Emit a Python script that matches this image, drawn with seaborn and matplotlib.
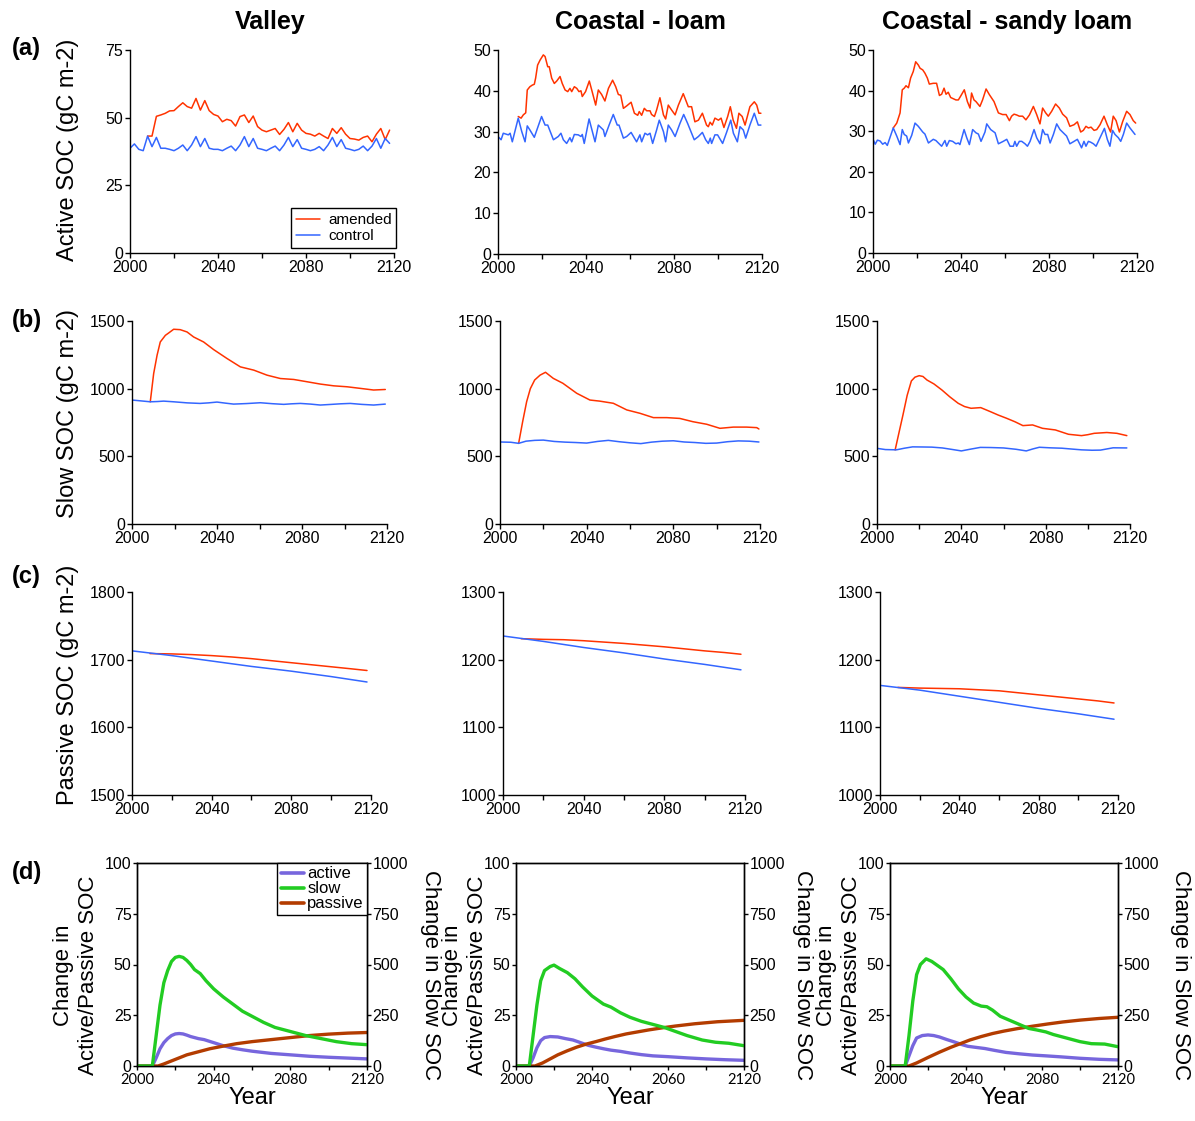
import numpy as np
import pandas as pd
import matplotlib
matplotlib.use("Agg")
import matplotlib.pyplot as plt
from matplotlib.lines import Line2D
import seaborn as sns

sns.set_theme(style="ticks", rc={
    "axes.edgecolor": "black",
    "xtick.color": "black",
    "ytick.color": "black",
    "text.color": "black",
    "axes.labelcolor": "black",
})
plt.rcParams["font.family"] = ["Liberation Sans", "DejaVu Sans"]

# ---------------------------------------------------------------- labels
SITES = ["Valley", "Coastal - loam", "Coastal - sandy loam"]
PANEL_TAGS = ["(a)", "(b)", "(c)", "(d)"]
ROW_YLABELS = ["Active SOC (gC m-2)", "Slow SOC (gC m-2)", "Passive SOC (gC m-2)"]
X_TICKS = [2000, 2020, 2040, 2060, 2080, 2100, 2120]
X_TICK_LABELS = ["2000", "", "2040", "", "2080", "", "2120"]
X_TICK_LABELS_LOAM_CHANGE = ["2000", "", "2040", "", "2060", "", "2120"]

# ---------------------------------------------------------------- active pool (gC m-2)
valley_active_ctrl_years = list(range(2000, 2120, 2))
valley_active_ctrl = [38.7, 40.3, 38.3, 37.8, 43.2, 39.3, 42.7, 38.7, 38.7, 38.3,
                      37.8, 38.7, 39.9, 37.8, 39.9, 43.0, 39.3, 42.3, 38.7, 38.3,
                      38.3, 37.8, 38.7, 39.5, 37.8, 39.9, 43.0, 39.3, 42.3, 38.7,
                      38.3, 37.8, 38.7, 39.5, 37.8, 39.9, 42.7, 39.3, 41.9, 38.7,
                      38.3, 37.8, 38.3, 39.3, 37.8, 39.9, 42.7, 39.3, 41.9, 38.7,
                      38.3, 37.8, 38.3, 39.5, 37.8, 39.5, 42.3, 38.7, 42.3, 40.5]
valley_active_amend_years = list(range(2008, 2120, 2))
valley_active_amend = [43.2, 43.2, 50.5, 51.0, 51.6, 52.5, 52.6, 54.1, 55.5, 54.1,
                       53.5, 57.1, 52.8, 56.3, 52.6, 51.2, 50.6, 48.5, 49.4, 48.9,
                       46.9, 50.4, 51.0, 48.2, 50.6, 46.7, 45.4, 44.8, 45.4, 46.0,
                       43.8, 45.7, 48.2, 44.8, 47.9, 45.4, 44.2, 43.9, 43.2, 44.2,
                       43.2, 42.3, 46.0, 44.2, 46.3, 43.9, 42.3, 42.1, 41.7, 42.7,
                       43.2, 41.1, 43.9, 46.0, 41.9, 45.4]

loam_active_ctrl_years = [2000.0, 2001.4, 2002.4, 2004.7, 2005.5, 2006.5, 2009.2, 2010.8, 2012.3, 2013.3,
                          2014.5, 2016.5, 2019.8, 2021.4, 2022.6, 2025.2, 2027.4, 2028.6, 2029.7, 2031.2,
                          2032.7, 2033.5, 2034.7, 2036.5, 2037.7, 2038.3, 2039.2, 2041.4, 2044.1, 2045.6,
                          2047.9, 2048.6, 2050.5, 2052.4, 2054.2, 2055.0, 2057.0, 2058.5, 2060.5, 2062.0,
                          2063.0, 2064.5, 2065.3, 2066.8, 2068.0, 2069.1, 2070.3, 2072.1, 2073.3, 2075.2,
                          2076.2, 2077.4, 2078.9, 2080.5, 2082.7, 2084.4, 2086.2, 2086.8, 2089.2, 2091.1,
                          2092.9, 2094.4, 2095.6, 2096.5, 2097.1, 2098.6, 2099.8, 2102.1, 2103.9, 2105.8,
                          2107.0, 2108.8, 2110.0, 2111.5, 2112.6, 2114.5, 2116.5, 2118.3, 2119.5]
loam_active_ctrl = [28.8, 28.0, 29.6, 29.2, 29.6, 27.5, 33.3, 30.0, 27.5, 31.4,
                    30.4, 28.6, 33.7, 31.6, 31.6, 28.0, 28.8, 29.6, 28.0, 27.1,
                    28.5, 27.5, 29.3, 29.2, 28.8, 29.3, 27.1, 33.1, 27.5, 31.6,
                    30.4, 28.8, 31.6, 34.2, 31.6, 31.6, 28.4, 28.8, 29.8, 28.4,
                    27.5, 29.2, 27.5, 29.6, 29.2, 29.6, 27.1, 30.4, 32.8, 30.0,
                    27.5, 31.6, 30.4, 28.8, 32.0, 34.2, 32.0, 31.2, 28.0, 28.8,
                    29.8, 28.0, 27.1, 28.4, 27.1, 29.2, 29.2, 27.1, 29.8, 32.8,
                    29.6, 27.5, 31.2, 30.4, 28.4, 31.6, 34.5, 31.6, 31.6]
loam_active_amend_years = [2009.2, 2010.5, 2011.5, 2012.6, 2013.3, 2014.5, 2015.6, 2016.5, 2017.1, 2018.0,
                           2019.1, 2020.6, 2021.4, 2022.6, 2023.3, 2024.4, 2025.6, 2026.7, 2028.2, 2029.2,
                           2030.5, 2031.7, 2032.7, 2033.5, 2034.7, 2035.8, 2036.8, 2037.7, 2038.3, 2039.8,
                           2041.5, 2042.6, 2044.4, 2045.6, 2047.1, 2048.6, 2050.2, 2052.1, 2053.5, 2054.7,
                           2055.8, 2057.0, 2058.5, 2060.5, 2062.0, 2063.5, 2064.2, 2065.3, 2066.5, 2067.6,
                           2069.1, 2069.8, 2071.1, 2072.1, 2073.6, 2075.2, 2076.2, 2077.4, 2078.9, 2080.5,
                           2082.0, 2084.2, 2086.5, 2088.0, 2089.5, 2091.1, 2092.9, 2094.8, 2095.6, 2096.4,
                           2097.4, 2098.6, 2100.2, 2101.4, 2102.7, 2104.4, 2105.6, 2106.9, 2108.4, 2109.5,
                           2111.0, 2112.3, 2114.5, 2116.5, 2117.6, 2118.6, 2119.5]
loam_active_amend = [33.7, 33.3, 34.1, 34.6, 40.2, 41.0, 41.4, 41.6, 43.1, 46.3,
                     47.5, 48.8, 48.4, 45.9, 45.9, 43.1, 41.8, 42.4, 43.5, 41.8,
                     40.2, 39.8, 40.6, 39.8, 41.0, 40.6, 39.8, 40.0, 38.6, 39.8,
                     42.4, 40.2, 36.5, 40.2, 39.1, 37.5, 40.6, 42.6, 41.0, 39.1,
                     38.9, 35.7, 36.3, 37.2, 34.5, 34.0, 34.9, 34.0, 35.7, 35.1,
                     35.1, 34.2, 33.7, 35.3, 38.3, 34.1, 33.1, 36.5, 35.3, 34.1,
                     36.5, 39.3, 36.1, 36.1, 32.4, 32.8, 34.5, 31.6, 31.2, 32.3,
                     31.6, 33.3, 32.8, 33.3, 31.0, 33.7, 36.1, 32.8, 30.8, 34.5,
                     33.7, 31.6, 36.1, 37.3, 36.5, 34.5, 34.5]

sandy_active_ctrl_years = [2000.0, 2001.0, 2002.0, 2003.2, 2004.4, 2005.5, 2006.5, 2009.2, 2010.8, 2012.3,
                           2013.3, 2014.2, 2015.3, 2016.1, 2017.6, 2019.1, 2020.6, 2022.6, 2023.6, 2025.2,
                           2027.4, 2028.6, 2029.7, 2031.2, 2032.7, 2033.5, 2034.7, 2036.2, 2037.7, 2038.8,
                           2039.5, 2041.4, 2042.6, 2043.8, 2045.3, 2046.8, 2047.9, 2049.1, 2050.9, 2051.7,
                           2053.5, 2055.5, 2057.0, 2059.2, 2060.8, 2062.3, 2063.8, 2064.5, 2065.3, 2066.5,
                           2067.6, 2069.1, 2070.2, 2071.4, 2073.2, 2074.4, 2075.9, 2077.1, 2078.2, 2079.4,
                           2080.5, 2082.0, 2083.5, 2085.0, 2086.5, 2088.0, 2089.5, 2091.4, 2092.9, 2094.1,
                           2094.8, 2095.9, 2096.8, 2097.9, 2098.9, 2100.2, 2101.4, 2103.2, 2105.2, 2106.5,
                           2107.7, 2108.9, 2110.0, 2111.5, 2112.6, 2113.8, 2115.3, 2116.8, 2119.1]
sandy_active_ctrl = [28.0, 26.8, 27.8, 27.6, 26.8, 27.2, 26.5, 30.8, 28.8, 26.7,
                     30.4, 29.2, 28.8, 27.1, 29.0, 32.0, 31.2, 29.8, 29.3, 27.1,
                     28.0, 27.7, 27.1, 26.3, 27.7, 26.3, 27.7, 27.5, 26.9, 27.1,
                     26.7, 30.4, 28.4, 26.7, 30.4, 29.6, 29.3, 27.5, 29.8, 31.8,
                     30.4, 29.6, 26.9, 27.5, 28.0, 26.3, 26.3, 27.5, 26.3, 27.5,
                     27.5, 26.9, 26.3, 27.5, 30.4, 28.4, 26.9, 30.4, 29.2, 29.2,
                     27.1, 29.2, 31.8, 30.4, 29.6, 28.8, 26.9, 27.5, 28.0, 26.7,
                     25.9, 27.5, 26.3, 27.5, 27.3, 26.9, 26.3, 28.4, 30.7, 28.0,
                     26.3, 30.2, 29.2, 28.4, 27.5, 29.2, 32.0, 30.8, 29.2]
sandy_active_amend_years = [2009.2, 2010.8, 2012.3, 2013.3, 2014.2, 2015.0, 2016.1, 2017.1, 2018.3, 2019.4,
                            2020.6, 2021.4, 2022.6, 2023.6, 2024.7, 2025.6, 2027.4, 2028.9, 2030.2, 2031.2,
                            2032.3, 2033.2, 2034.2, 2035.3, 2036.5, 2037.7, 2038.8, 2039.8, 2041.5, 2042.9,
                            2044.1, 2044.8, 2045.9, 2046.8, 2048.6, 2049.8, 2051.4, 2052.9, 2055.0, 2057.0,
                            2058.9, 2060.5, 2062.0, 2063.0, 2064.1, 2065.3, 2066.5, 2068.0, 2069.5, 2071.1,
                            2072.9, 2074.4, 2075.9, 2077.1, 2078.5, 2079.7, 2081.2, 2083.0, 2084.7, 2086.2,
                            2088.0, 2089.5, 2091.4, 2092.9, 2094.4, 2095.6, 2096.8, 2097.9, 2099.1, 2100.5,
                            2101.7, 2103.2, 2105.0, 2106.5, 2108.0, 2109.2, 2110.5, 2112.0, 2113.5, 2115.3,
                            2116.8, 2118.3, 2119.4]
sandy_active_amend = [30.8, 32.0, 34.5, 40.2, 40.6, 41.2, 40.7, 43.1, 44.7, 47.1,
                      46.3, 45.5, 45.1, 44.3, 43.1, 41.6, 41.8, 41.8, 38.8, 39.1,
                      40.6, 39.1, 39.6, 38.3, 38.0, 37.7, 37.7, 38.6, 40.2, 37.3,
                      35.7, 39.4, 37.7, 37.3, 36.1, 37.7, 40.4, 39.0, 37.3, 34.5,
                      34.1, 34.1, 32.6, 33.7, 34.2, 34.0, 33.7, 33.7, 32.8, 34.0,
                      36.1, 34.1, 31.8, 35.7, 34.5, 33.7, 34.9, 36.7, 35.7, 34.2,
                      33.3, 31.2, 31.6, 32.3, 29.8, 30.2, 31.2, 30.8, 31.0, 30.2,
                      30.4, 31.6, 33.7, 31.6, 29.8, 33.7, 32.6, 29.8, 32.4, 34.9,
                      34.1, 32.6, 32.0]

# ---------------------------------------------------------------- slow pool (gC m-2)
valley_slow_ctrl_years = [2000, 2004, 2008.6, 2012, 2014.9, 2019.6, 2026, 2032, 2036, 2040,
                          2044, 2047.8, 2054, 2060.4, 2066, 2071.4, 2075, 2079.2, 2084, 2088.6,
                          2094, 2098, 2102.7, 2108, 2113.7, 2119.2]
valley_slow_ctrl = [916, 910, 903, 905, 908, 903, 895, 891, 895, 901,
                    893, 886, 890, 896, 889, 884, 888, 891, 886, 879,
                    884, 888, 891, 884, 879, 886]
valley_slow_amend_years = [2008.6, 2010.2, 2011.8, 2013.3, 2015.7, 2017.3, 2019.6, 2022.7, 2025.9, 2029.0,
                           2033.7, 2038.4, 2044.7, 2051.0, 2057.3, 2063.5, 2069.8, 2076.1, 2082.4, 2088.6,
                           2094.9, 2101.2, 2107.5, 2113.7, 2119.2]
valley_slow_amend = [903, 1112, 1247, 1345, 1394, 1412, 1439, 1436, 1419, 1382,
                     1345, 1289, 1223, 1161, 1137, 1100, 1075, 1068, 1051, 1034,
                     1021, 1014, 1002, 990, 994]

loam_slow_ctrl_years = [2000, 2005, 2008.6, 2012, 2016, 2020, 2025, 2030, 2035, 2040,
                        2045, 2050, 2055, 2060, 2065, 2070, 2075, 2080, 2085, 2090,
                        2095, 2100, 2105, 2110, 2115, 2119.5]
loam_slow_ctrl = [606, 604, 596, 612, 618, 620, 610, 605, 602, 598,
                  610, 618, 608, 600, 594, 605, 612, 615, 606, 602,
                  596, 598, 608, 614, 612, 606]
loam_slow_amend_years = [2008.6, 2010.5, 2012.3, 2014, 2016, 2018.5, 2021, 2024.6, 2029, 2035.4,
                         2041.5, 2046, 2052.3, 2058.5, 2064.6, 2070.8, 2077, 2083, 2089, 2095.4,
                         2101.5, 2107.7, 2113.8, 2118.5, 2119.5]
loam_slow_amend = [596, 760, 904, 1000, 1064, 1100, 1121, 1076, 1040, 966,
                   916, 908, 892, 843, 818, 786, 786, 780, 756, 737,
                   707, 716, 716, 712, 702]

sandy_slow_ctrl_years = [2000, 2004, 2009.2, 2013, 2016.9, 2022, 2026, 2031, 2036, 2040,
                         2044, 2049, 2054, 2060, 2066, 2070.8, 2074, 2077, 2082, 2087.7,
                         2093, 2097, 2102, 2106, 2112, 2118.5]
sandy_slow_ctrl = [559, 550, 548, 560, 570, 569, 568, 562, 550, 540,
                   552, 566, 565, 562, 552, 540, 555, 567, 563, 560,
                   553, 548, 545, 546, 563, 562]
sandy_slow_amend_years = [2008.6, 2010.5, 2012.3, 2014.3, 2016.3, 2018, 2020, 2021.8, 2023.7, 2027,
                          2030.8, 2034.5, 2038.5, 2041.5, 2044.6, 2049.2, 2053.8, 2057.5, 2061.5, 2065.5,
                          2069.2, 2073.8, 2078.5, 2084.6, 2090.8, 2097, 2100, 2103, 2109, 2113.8,
                          2118.5]
sandy_slow_amend = [547, 680, 805, 950, 1057, 1085, 1096, 1090, 1064, 1035,
                    990, 940, 892, 868, 855, 860, 830, 805, 781, 755,
                    727, 732, 707, 695, 663, 653, 660, 670, 676, 670,
                    653]

# ---------------------------------------------------------------- passive pool (gC m-2)
passive_ctrl_years = [2000, 2020, 2040, 2060, 2080, 2100, 2118]
passive_amend_years = [2009, 2020, 2030, 2040, 2050, 2060, 2070, 2080, 2090, 2100, 2110, 2118]
valley_passive_ctrl = [1713, 1706, 1698, 1690, 1683, 1675, 1667]
valley_passive_amend = [1709, 1708.5, 1707.5, 1706, 1704, 1701.5, 1698.5, 1695.5, 1692.5, 1689.5, 1686.5, 1684]
loam_passive_ctrl = [1235, 1227, 1218, 1210, 1201, 1193, 1185]
loam_passive_amend = [1231, 1230, 1229.5, 1228, 1226, 1224, 1221.5, 1219, 1216, 1213, 1210.5, 1208]
sandy_passive_ctrl = [1162, 1155, 1146, 1137, 1128, 1120, 1112]
sandy_passive_amend = [1159, 1158, 1157.5, 1157, 1155.5, 1154, 1151, 1148, 1145, 1142, 1139, 1136]

# ---------------------------------------------------------------- change due to amendment
valley_chg_active_years = [2000, 2008, 2010, 2012, 2014, 2016, 2018, 2020, 2022, 2024,
                           2026, 2028, 2030, 2032, 2035, 2040, 2045, 2050, 2055, 2060,
                           2070, 2080, 2090, 2100, 2110, 2120]
valley_chg_active = [0, 0, 4, 8.5, 11.5, 13.5, 15, 15.8, 16, 15.8,
                     15.2, 14.5, 14, 13.5, 13, 11.5, 10, 8.8, 8, 7.3,
                     6.2, 5.5, 4.8, 4.3, 3.9, 3.5]
valley_chg_slow_years = [2000, 2008, 2010, 2012, 2014, 2016, 2018, 2020, 2022, 2024,
                         2026, 2028, 2030, 2033, 2036, 2040, 2045, 2050, 2055, 2060,
                         2066, 2072, 2080, 2088, 2096, 2104, 2112, 2120]
valley_chg_slow = [0, 0, 150, 300, 410, 470, 515, 535, 540, 535,
                   520, 500, 475, 455, 420, 380, 340, 305, 270, 245,
                   215, 190, 170, 150, 135, 120, 110, 105]
valley_chg_passive_years = [2000, 2011, 2014, 2018, 2022, 2026, 2032, 2038, 2045, 2052,
                            2060, 2070, 2080, 2090, 2100, 2110, 2120]
valley_chg_passive = [0, 0, 1, 2.5, 4, 5.5, 7, 8.5, 9.8, 11,
                      12, 13, 14, 15, 15.7, 16.2, 16.5]

loam_chg_active_years = [2000, 2007, 2009, 2011, 2013, 2015, 2018, 2022, 2026, 2030,
                         2034, 2038, 2042, 2046, 2050, 2055, 2060, 2066, 2072, 2080,
                         2090, 2100, 2110, 2120]
loam_chg_active = [0, 0, 4, 9, 12.5, 14, 14.5, 14.3, 13.5, 12.8,
                   11.5, 10.2, 9.3, 8.5, 7.8, 7.2, 6.4, 5.6, 5.0, 4.6,
                   4.0, 3.5, 3.1, 2.8]
loam_chg_slow_years = [2000, 2007, 2009, 2011, 2013, 2015, 2018, 2020, 2023, 2027,
                       2031, 2035, 2040, 2046, 2050, 2055, 2060, 2066, 2072, 2078,
                       2084, 2090, 2098, 2105, 2112, 2120]
loam_chg_slow = [0, 0, 150, 300, 420, 470, 490, 497, 480, 460,
                 430, 390, 345, 305, 290, 262, 240, 220, 205, 190,
                 170, 150, 128, 117, 112, 100]
loam_chg_passive_years = [2000, 2010, 2014, 2018, 2022, 2027, 2032, 2037, 2042, 2047,
                          2052, 2058, 2064, 2070, 2077, 2084, 2094, 2106, 2120]
loam_chg_passive = [0, 0, 1.5, 3.5, 5.5, 7.5, 9.3, 10.8, 12.0, 13.3,
                    14.5, 15.8, 16.8, 17.8, 18.8, 19.7, 20.8, 21.8, 22.5]

sandy_chg_active_years = [2000, 2008, 2010, 2012, 2014, 2017, 2020, 2023, 2026, 2030,
                          2034, 2038, 2041, 2045, 2050, 2055, 2061, 2068, 2075, 2082,
                          2090, 2100, 2110, 2120]
sandy_chg_active = [0, 0, 5, 10, 13.8, 15.0, 15.3, 15.0, 14.3, 13.0,
                    11.8, 10.5, 9.7, 9.2, 8.6, 7.7, 6.7, 6.0, 5.4, 5.0,
                    4.5, 3.8, 3.3, 3.0]
sandy_chg_slow_years = [2000, 2008, 2010, 2012, 2014, 2016, 2019, 2022, 2025, 2028,
                        2032, 2036, 2040, 2044, 2048, 2051, 2054, 2058, 2063, 2068,
                        2073, 2077, 2082, 2086, 2092, 2100, 2106, 2113, 2120]
sandy_chg_slow = [0, 0, 150, 320, 450, 500, 528, 515, 495, 475,
                  430, 380, 340, 310, 295, 292, 275, 245, 225, 205,
                  185, 178, 168, 155, 140, 120, 110, 108, 95]
sandy_chg_passive_years = [2000, 2010, 2014, 2020, 2026, 2032, 2037, 2042, 2048, 2054,
                           2060, 2067, 2075, 2083, 2091, 2100, 2110, 2120]
sandy_chg_passive = [0, 0, 1.5, 4.2, 6.8, 9.2, 11.0, 12.8, 14.5, 16.0,
                     17.2, 18.4, 19.6, 20.7, 21.7, 22.6, 23.4, 24.0]

# ---------------------------------------------------------------- styling
RUN_COLORS = {"amended": "#ff3300", "control": "#3366ff"}
POOL_COLORS = {"active": "#7766dd", "slow": "#22cc22", "passive": "#b33c00"}
SANS = ["Liberation Sans", "DejaVu Sans"]

W, H = 1195, 1121
fig = plt.figure(figsize=(W / 100, H / 100), dpi=100)


def px_axes(left, top, right, bottom):
    return fig.add_axes([left / W, 1 - bottom / H, (right - left) / W, (bottom - top) / H])


def pair_frame(ctrl_x, ctrl_y, amend_x, amend_y):
    return pd.concat([
        pd.DataFrame({"year": amend_x, "soc": amend_y, "run": "amended"}),
        pd.DataFrame({"year": ctrl_x, "soc": ctrl_y, "run": "control"}),
    ], ignore_index=True)


def draw_pair(ax, frame, yticks):
    sns.lineplot(data=frame, x="year", y="soc", hue="run", hue_order=["amended", "control"],
                 palette=RUN_COLORS, estimator=None, linewidth=1.1, legend=False, ax=ax)
    ax.set_xlim(2000, 2120)
    ax.set_ylim(yticks[0], yticks[-1])
    ax.set_xticks(X_TICKS)
    ax.set_xticklabels(X_TICK_LABELS)
    ax.set_yticks(yticks)
    ax.set_xlabel("")
    ax.set_ylabel("")
    for side in ("top", "right"):
        ax.spines[side].set_visible(False)
    for side in ("left", "bottom"):
        ax.spines[side].set_linewidth(1.0)
    ax.tick_params(direction="out", length=3.5, width=1.0, labelsize=11.5, pad=1.5)
    for lab in ax.get_xticklabels() + ax.get_yticklabels():
        lab.set_fontfamily(SANS)


# axes boxes in pixels: (left, top, right, bottom)
row_boxes = [
    [(130, 50, 394, 253), (498, 50, 762, 254), (873, 50, 1137, 253)],
    [(132, 321, 387, 524), (500, 321, 760, 524), (877, 321, 1130, 524)],
    [(132, 592, 371, 795), (503, 592, 745, 795), (880, 592, 1118, 795)],
    [(137, 863, 367, 1066), (516, 863, 744, 1066), (890, 863, 1118, 1066)],
]
# horizontal centres of the two-line left label and the right label, row (d)
change_left_label_x = [76, 465, 839]
change_right_label_x = [430, 802, 1180]

active_sets = [
    (valley_active_ctrl_years, valley_active_ctrl, valley_active_amend_years, valley_active_amend, [0, 25, 50, 75]),
    (loam_active_ctrl_years, loam_active_ctrl, loam_active_amend_years, loam_active_amend, [0, 10, 20, 30, 40, 50]),
    (sandy_active_ctrl_years, sandy_active_ctrl, sandy_active_amend_years, sandy_active_amend, [0, 10, 20, 30, 40, 50]),
]
slow_sets = [
    (valley_slow_ctrl_years, valley_slow_ctrl, valley_slow_amend_years, valley_slow_amend, [0, 500, 1000, 1500]),
    (loam_slow_ctrl_years, loam_slow_ctrl, loam_slow_amend_years, loam_slow_amend, [0, 500, 1000, 1500]),
    (sandy_slow_ctrl_years, sandy_slow_ctrl, sandy_slow_amend_years, sandy_slow_amend, [0, 500, 1000, 1500]),
]
passive_sets = [
    (passive_ctrl_years, valley_passive_ctrl, passive_amend_years, valley_passive_amend, [1500, 1600, 1700, 1800]),
    (passive_ctrl_years, loam_passive_ctrl, passive_amend_years, loam_passive_amend, [1000, 1100, 1200, 1300]),
    (passive_ctrl_years, sandy_passive_ctrl, passive_amend_years, sandy_passive_amend, [1000, 1100, 1200, 1300]),
]

for r, sets in enumerate([active_sets, slow_sets, passive_sets]):
    for c, (cx, cy, ax_, ay, yt) in enumerate(sets):
        ax = px_axes(*row_boxes[r][c])
        draw_pair(ax, pair_frame(cx, cy, ax_, ay), yt)
        if r == 0 and c == 0:
            handles = [Line2D([], [], color=RUN_COLORS[k], lw=1.1) for k in ("amended", "control")]
            leg = ax.legend(handles, ["amended", "control"], loc="lower right",
                            bbox_to_anchor=(1.008, 0.025), fontsize=11, frameon=True,
                            fancybox=False, framealpha=1, edgecolor="black",
                            handlelength=1.6, handletextpad=0.5, borderpad=0.3,
                            labelspacing=0.15, borderaxespad=0)
            leg.get_frame().set_linewidth(1.0)

# ---------------------------------------------------------------- change panels
change_sets = [
    (valley_chg_active_years, valley_chg_active, valley_chg_passive_years, valley_chg_passive,
     valley_chg_slow_years, valley_chg_slow, X_TICK_LABELS),
    (loam_chg_active_years, loam_chg_active, loam_chg_passive_years, loam_chg_passive,
     loam_chg_slow_years, loam_chg_slow, X_TICK_LABELS_LOAM_CHANGE),
    (sandy_chg_active_years, sandy_chg_active, sandy_chg_passive_years, sandy_chg_passive,
     sandy_chg_slow_years, sandy_chg_slow, X_TICK_LABELS),
]

for c, (axx, axy, psx, psy, slx, sly, xlabels) in enumerate(change_sets):
    box = row_boxes[3][c]
    ax = px_axes(*box)
    left_frame = pd.concat([
        pd.DataFrame({"year": axx, "change": axy, "pool": "active"}),
        pd.DataFrame({"year": psx, "change": psy, "pool": "passive"}),
    ], ignore_index=True)
    sns.lineplot(data=left_frame, x="year", y="change", hue="pool", hue_order=["active", "passive"],
                 palette=POOL_COLORS, estimator=None, linewidth=2.4, legend=False, ax=ax)
    ax2 = ax.twinx()
    slow_frame = pd.DataFrame({"year": slx, "change": sly, "pool": "slow"})
    sns.lineplot(data=slow_frame, x="year", y="change", color=POOL_COLORS["slow"],
                 estimator=None, linewidth=2.4, legend=False, ax=ax2)

    ax.set_xlim(2000, 2120)
    ax.set_ylim(0, 100)
    ax2.set_ylim(0, 1000)
    ax.set_yticks([0, 25, 50, 75, 100])
    ax2.set_yticks([0, 250, 500, 750, 1000])
    ax.set_xticks(X_TICKS)
    ax.set_xticklabels(xlabels)
    for a in (ax, ax2):
        a.set_xlabel("")
        a.set_ylabel("")
        for side in a.spines.values():
            side.set_linewidth(1.0)
            side.set_color("black")
    ax.tick_params(axis="y", direction="out", length=3, width=1.0, labelsize=11.5, pad=1)
    ax2.tick_params(axis="y", direction="out", length=3, width=1.0, labelsize=11.5, pad=1)
    ax.tick_params(axis="x", direction="out", length=3, width=1.0, labelsize=10.5, pad=2)
    for lab in ax.get_xticklabels():
        lab.set_fontfamily(["Lato", "DejaVu Sans"])

    fig.text((box[0] + box[2]) / 2 / W, 1 - 1098 / H, "Year", fontsize=17,
             ha="center", va="center")
    fig.text(change_left_label_x[c] / W, 1 - 975 / H, "Change in\nActive/Passive SOC", fontsize=16,
             rotation=90, ha="center", va="center", linespacing=1.25)
    fig.text(change_right_label_x[c] / W, 1 - 975 / H, "Change in Slow SOC", fontsize=16,
             rotation=270, ha="center", va="center")

    if c == 0:
        handles = [Line2D([], [], color=POOL_COLORS[k], lw=2.6) for k in ("active", "slow", "passive")]
        leg = ax2.legend(handles, ["active", "slow", "passive"], loc="upper right",
                         bbox_to_anchor=(1.0, 1.0), fontsize=12, frameon=True,
                         fancybox=False, framealpha=1, edgecolor="black",
                         handlelength=1.4, handletextpad=0.2, borderpad=0.2,
                         labelspacing=0.0, borderaxespad=0)
        leg.get_frame().set_linewidth(1.0)

# ---------------------------------------------------------------- titles and labels
title_x = [270, 640, 1007]
for name, x in zip(SITES, title_x):
    fig.text(x / W, 1 - 22 / H, name, fontsize=18, fontweight="bold", ha="center", va="center")

for tag, y in zip(PANEL_TAGS, [48, 320, 576, 872]):
    fig.text(12 / W, 1 - y / H, tag, fontsize=17, fontweight="bold", ha="left", va="center")

for label, y in zip(ROW_YLABELS, [150, 414, 685]):
    fig.text(68 / W, 1 - y / H, label, fontsize=17, rotation=90, ha="center", va="center")

fig.savefig("out.png", dpi=100)
